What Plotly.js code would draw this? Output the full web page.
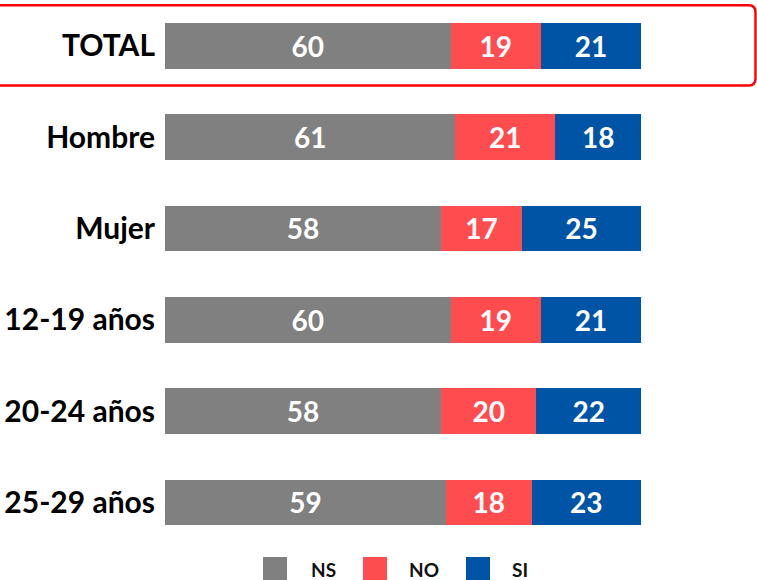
<!DOCTYPE html>
<html>
<head>
<meta charset="utf-8">
<script src="https://cdn.plot.ly/plotly-3.0.1.min.js"></script>
<style>html,body{margin:0;padding:0;background:#fff;}#chart{width:757px;height:580px;}</style>
</head>
<body>
<div id="chart"></div>
<script>
const categories = ["TOTAL", "Hombre", "Mujer", "12-19 años", "20-24 años", "25-29 años"];
const seriesNames = ["NS", "NO", "SI"];
const nsValues = [60, 61, 58, 60, 58, 59];
const noValues = [19, 21, 17, 19, 20, 18];
const siValues = [21, 18, 25, 21, 22, 23];
const seriesColors = ["#808080", "#FF4D4F", "#0054A6"];

const FONT = "Lato, 'Open Sans', sans-serif";
const values = [nsValues, noValues, siValues];

const traces = seriesNames.map((name, i) => ({
  type: "bar",
  orientation: "h",
  name: name,
  y: categories,
  x: values[i],
  text: values[i].map(String),
  textposition: "inside",
  insidetextanchor: "middle",
  textangle: 0,
  textfont: {family: FONT, size: 28, color: "#ffffff", weight: 700},
  marker: {color: seriesColors[i], line: {width: 0}},
  hoverinfo: "none",
  showlegend: false
}));

// plot area: x 165..641 px, y 0..548 px
const L = 165, W = 476, H = 548;
const px = v => (v - L) / W;
const py = v => 1 - v / H;

const shapes = [];
const annotations = [];

// rounded highlight box around TOTAL (left edge runs off the page)
const x0 = px(-12), x1 = px(755.5), y0 = py(5.2), y1 = py(85.5);
const rx = 7 / W, ry = 7 / H;
shapes.push({
  type: "path", xref: "paper", yref: "paper",
  path: `M ${x0 + rx} ${y0} L ${x1 - rx} ${y0} Q ${x1} ${y0} ${x1} ${y0 - ry} L ${x1} ${y1 + ry} Q ${x1} ${y1} ${x1 - rx} ${y1} L ${x0 + rx} ${y1} Q ${x0} ${y1} ${x0} ${y1 + ry} L ${x0} ${y0 - ry} Q ${x0} ${y0} ${x0 + rx} ${y0} Z`,
  line: {color: "#FF0000", width: 2.4},
  fillcolor: "rgba(0,0,0,0)",
  layer: "above"
});

// custom legend
const legendSquareX = [263, 363, 466];
const legendTextX = [323, 424, 520];
seriesNames.forEach((name, i) => {
  shapes.push({
    type: "rect", xref: "paper", yref: "paper",
    x0: px(legendSquareX[i]), x1: px(legendSquareX[i] + 24),
    y0: py(557), y1: py(580),
    fillcolor: seriesColors[i], line: {width: 0}
  });
  annotations.push({
    xref: "paper", yref: "paper",
    x: px(legendTextX[i]), y: py(569),
    text: name, showarrow: false,
    xanchor: "center", yanchor: "middle",
    font: {family: FONT, size: 19, color: "#111111", weight: 700}
  });
});

const layout = {
  width: 757, height: 580,
  margin: {l: 165, r: 116, t: 0, b: 32, pad: 0},
  barmode: "stack",
  bargap: 0.5,
  paper_bgcolor: "#ffffff",
  plot_bgcolor: "#ffffff",
  showlegend: false,
  xaxis: {range: [0, 100], visible: false, fixedrange: true},
  yaxis: {
    type: "category",
    autorange: "reversed",
    showgrid: false, zeroline: false, showline: false, ticks: "",
    ticklabelstandoff: 9,
    tickfont: {family: FONT, size: 30, color: "#000000", weight: 700}
  },
  shapes: shapes,
  annotations: annotations,
  font: {family: FONT}
};

Plotly.newPlot("chart", traces, layout, {displayModeBar: false, staticPlot: true});
</script>
</body>
</html>
